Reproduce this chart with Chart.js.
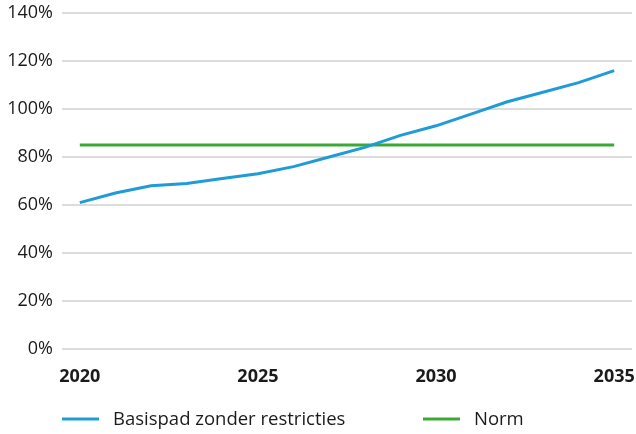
<!DOCTYPE html>
<html>
<head>
<meta charset="utf-8">
<script src="https://cdn.jsdelivr.net/npm/chart.js@4"></script>
<style>
  html, body { margin: 0; padding: 0; background: #ffffff; }
  #wrap { width: 636px; height: 434px; position: relative; }
</style>
</head>
<body>
<div id="wrap"><canvas id="c" width="636" height="434"></canvas></div>
<script>
const years = ['2020','2021','2022','2023','2024','2025','2026','2027','2028','2029','2030','2031','2032','2033','2034','2035'];
const basispad = [61, 65, 68, 69, 71, 73, 76, 80, 84, 89, 93, 98, 103, 107, 111, 116];
const norm = [85, 85, 85, 85, 85, 85, 85, 85, 85, 85, 85, 85, 85, 85, 85, 85];
const shownYears = ['2020', '2025', '2030', '2035'];
const seriesNames = ['Basispad zonder restricties', 'Norm'];

const BLUE = '#1f9bd8';
const GREEN = '#3aaa35';
const TEXT = '#1b1b1b';
const FONT = "'Open Sans', 'Noto Sans', sans-serif";

const legendPlugin = {
  id: 'customLegend',
  afterDraw(chart) {
    const ctx = chart.ctx;
    const y = 419;
    const items = [
      { x: chart.chartArea.left, ds: chart.data.datasets[0] },
      { x: 423, ds: chart.data.datasets[1] }
    ];
    ctx.save();
    ctx.font = '18.5px ' + FONT;
    ctx.textBaseline = 'middle';
    ctx.textAlign = 'left';
    items.forEach(it => {
      ctx.strokeStyle = it.ds.borderColor;
      ctx.lineWidth = 3;
      ctx.beginPath();
      ctx.moveTo(it.x, y);
      ctx.lineTo(it.x + 37, y);
      ctx.stroke();
      ctx.fillStyle = TEXT;
      ctx.fillText(it.ds.label, it.x + 51, y + 1);
    });
    ctx.restore();
  }
};

new Chart(document.getElementById('c'), {
  type: 'line',
  data: {
    labels: years,
    datasets: [
      { label: seriesNames[0], data: basispad, borderColor: BLUE, backgroundColor: BLUE, borderWidth: 3, pointRadius: 0, tension: 0, fill: false },
      { label: seriesNames[1], data: norm, borderColor: GREEN, backgroundColor: GREEN, borderWidth: 3, pointRadius: 0, tension: 0, fill: false }
    ]
  },
  options: {
    responsive: false,
    animation: false,
    layout: { padding: { top: 13, right: 4, bottom: 50, left: 0 } },
    plugins: { legend: { display: false }, tooltip: { enabled: false } },
    scales: {
      x: {
        type: 'category',
        offset: true,
        grid: { display: false },
        border: { display: false },
        ticks: {
          autoSkip: false,
          maxRotation: 0,
          minRotation: 0,
          padding: 9,
          color: TEXT,
          font: { family: FONT, size: 18, weight: 'bold' },
          callback: function (v, i) {
            const l = this.getLabelForValue(v);
            return shownYears.includes(l) ? l : '';
          }
        },
        afterFit(scale) { scale.height = 35; scale.paddingLeft = 0; scale.paddingRight = 0; }
      },
      y: {
        min: 0,
        max: 140,
        grid: { color: '#dcdcdc', lineWidth: 2, drawTicks: false },
        border: { display: false },
        ticks: {
          stepSize: 20,
          padding: 9,
          color: TEXT,
          font: { family: FONT, size: 18 },
          callback: v => v + '%'
        },
        afterFit(scale) { scale.width = 62; scale.paddingTop = 0; scale.paddingBottom = 0; }
      }
    }
  },
  plugins: [legendPlugin]
});
</script>
</body>
</html>
